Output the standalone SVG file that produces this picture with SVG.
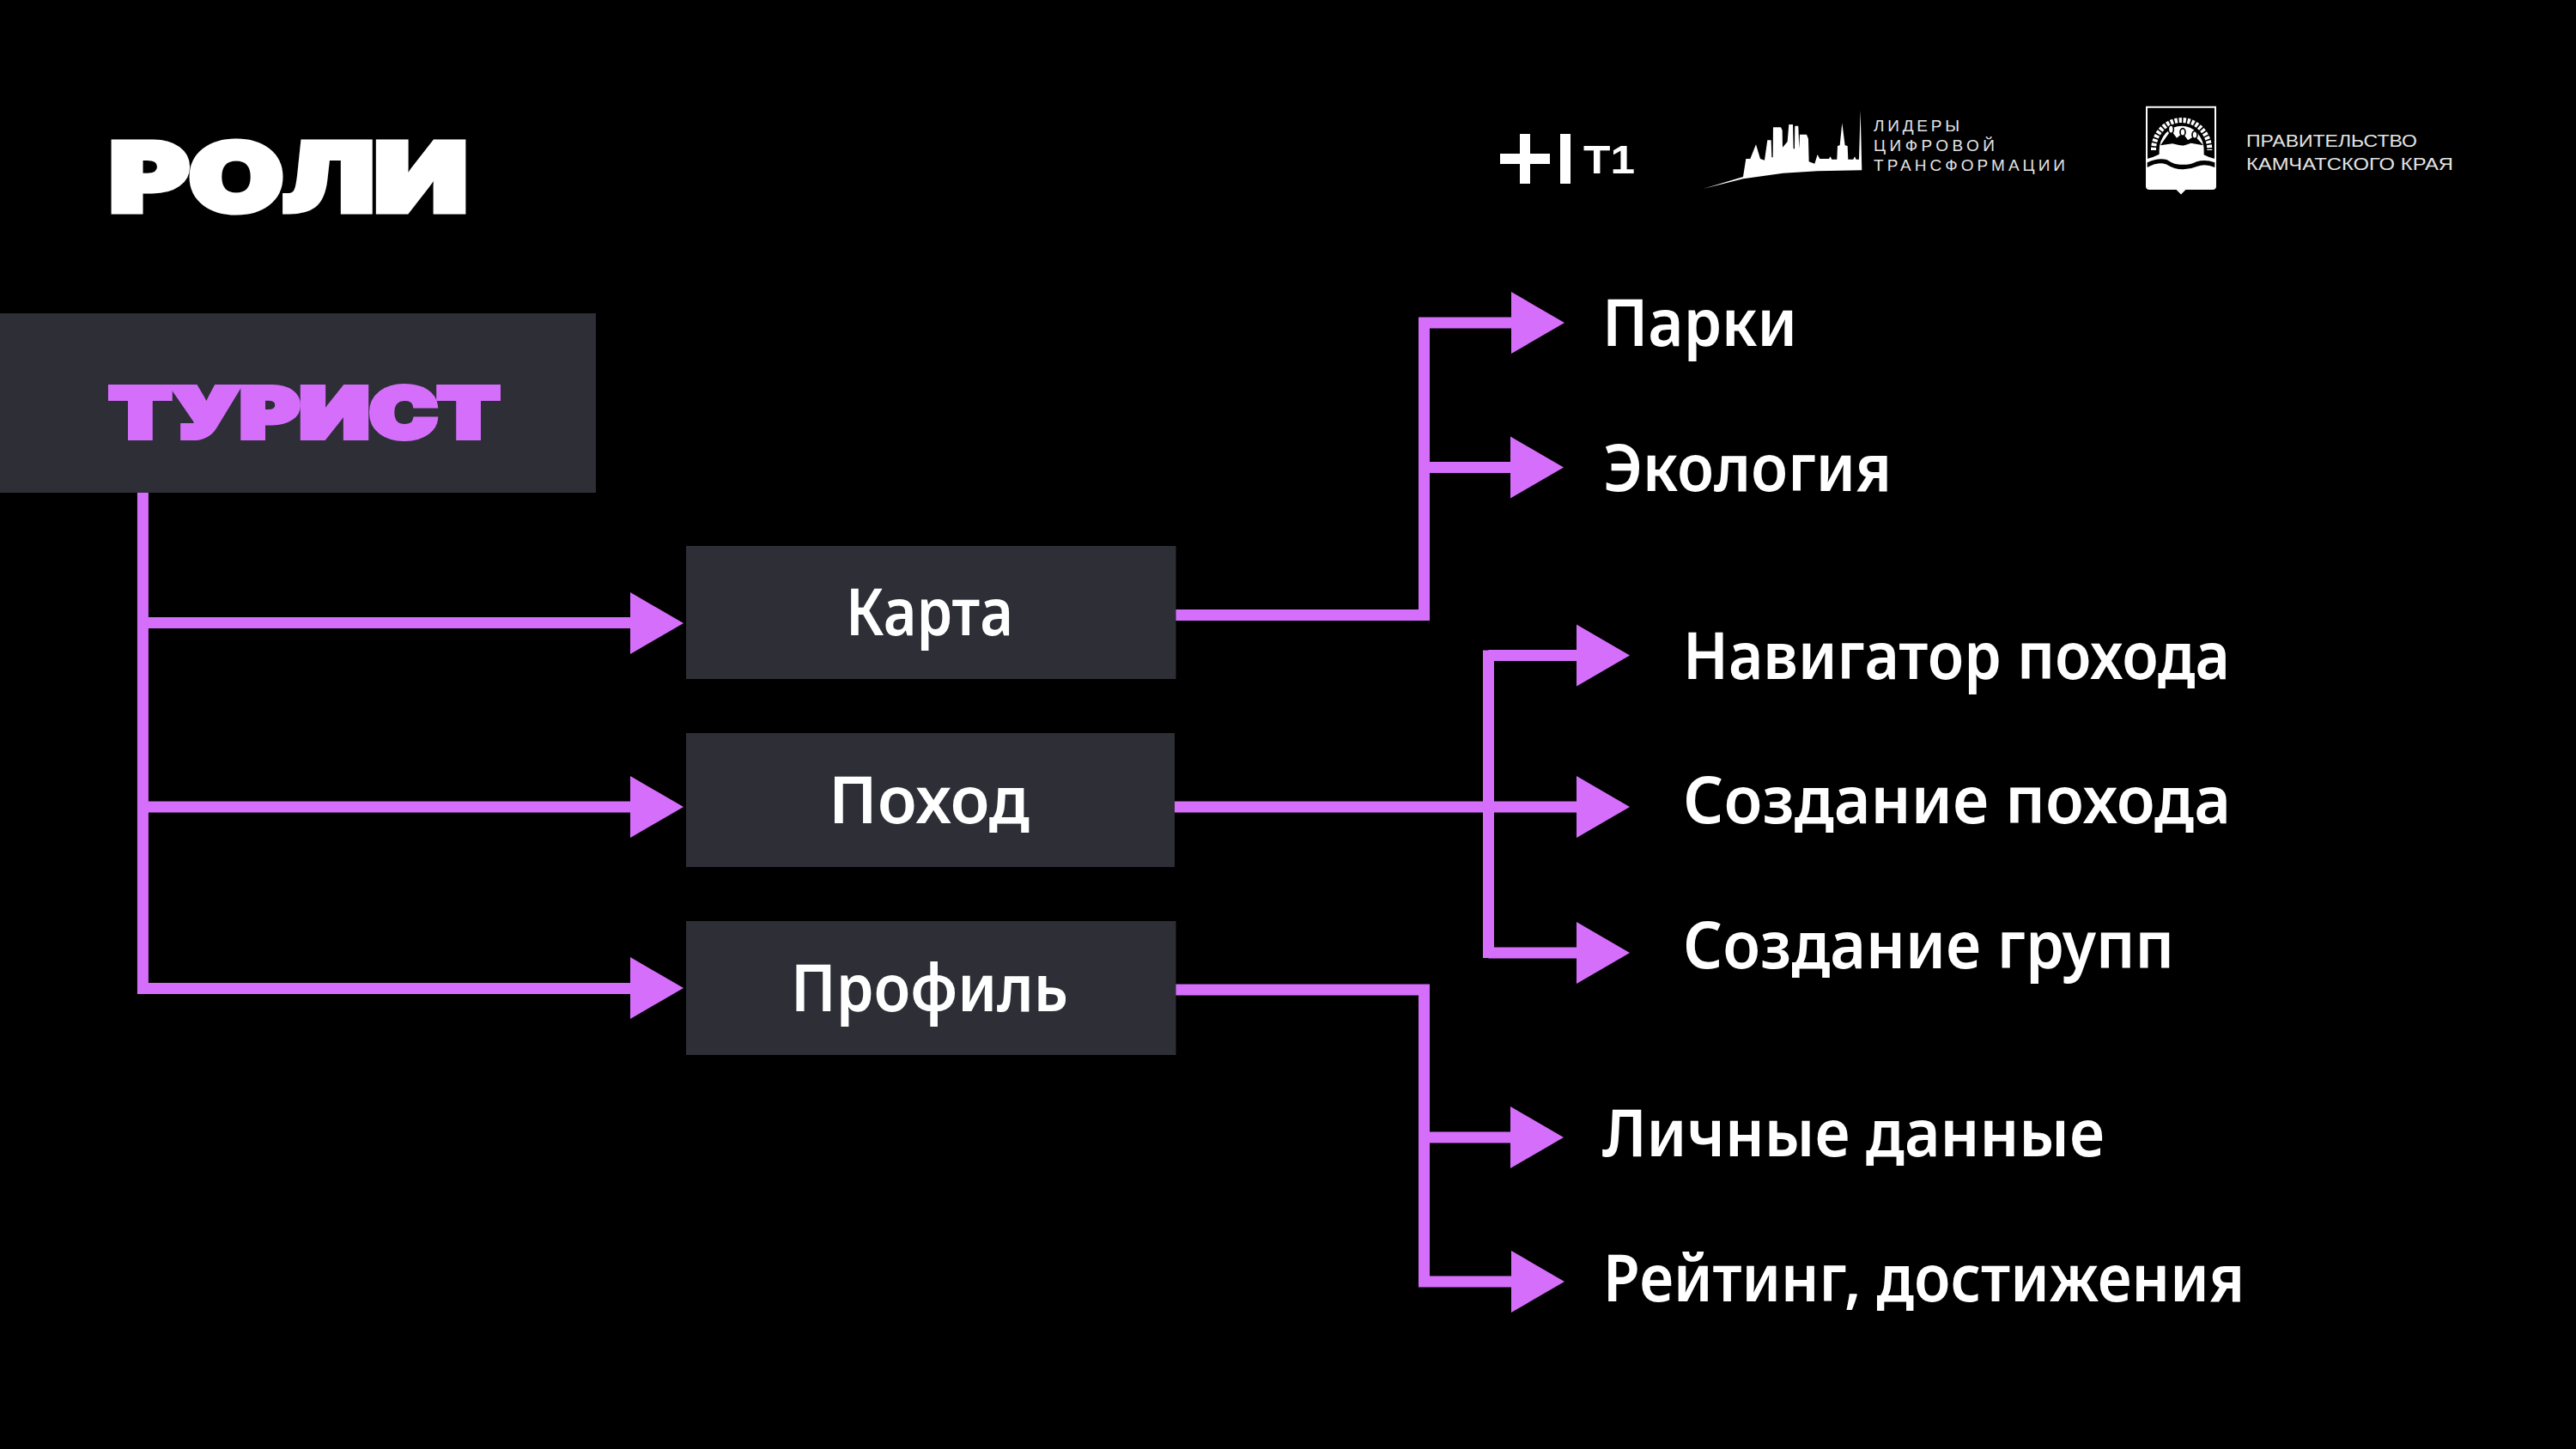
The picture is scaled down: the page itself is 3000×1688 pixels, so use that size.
<svg xmlns="http://www.w3.org/2000/svg" width="3000" height="1688" viewBox="0 0 3000 1688">
<style>
.box{fill:#2d2e36}
.lbl{font-family:"Noto Sans","DejaVu Sans",sans-serif;font-size:76px;font-weight:600;fill:#fff}
.head{font-family:Inter,"DejaVu Sans",sans-serif;font-weight:900;stroke-linejoin:miter}
.logo{font-family:"Liberation Sans","DejaVu Sans",sans-serif;fill:#e4e4e4}
.ln{fill:none;stroke:#d56ffb;stroke-width:13;stroke-linejoin:miter}
.ah{fill:#d56ffb}
</style>
<defs>
<polygon id="ar" class="ah" points="0,-36 62,0 0,36"/>
</defs>
<rect width="3000" height="1688" fill="#000"/>
<text id="title" class="head" x="127.500" y="245.500" font-size="110" fill="#fff" stroke="#fff" stroke-width="7" textLength="417" lengthAdjust="spacingAndGlyphs">РОЛИ</text>
<g id="logo-t1" fill="#fff">
<rect x="1747" y="179" width="58" height="12"/><rect x="1770" y="156" width="12" height="58"/>
<rect x="1817" y="156" width="12" height="58"/>
<text class="logo" x="1844" y="202" font-size="46" font-weight="700" style="fill:#fff" textLength="60" lengthAdjust="spacingAndGlyphs">T1</text>
</g>
<g id="logo-leaders">
<polygon transform="translate(1950 120) scale(.3333)" fill="#fff" points="100,300 240,258 250,195 265,195 285,145 300,195 315,200 325,130 338,130 340,190 344,190 345,85 372,85 377,95 378,155 395,135 400,75 414,75 416,160 420,160 421,80 433,80 436,160 438,110 462,110 468,125 470,205 490,212 500,180 508,195 540,195 545,187 550,197 568,197 570,150 578,148 586,70 596,148 605,150 607,197 625,197 630,187 635,197 645,197 650,25 655,235 500,238 380,245 240,265"/>
<text class="logo" x="2182" y="153" font-size="19" textLength="100" lengthAdjust="spacing">ЛИДЕРЫ</text>
<text class="logo" x="2182" y="176" font-size="19" textLength="141" lengthAdjust="spacing">ЦИФРОВОЙ</text>
<text class="logo" x="2182" y="199" font-size="19" textLength="223" lengthAdjust="spacing">ТРАНСФОРМАЦИИ</text>
</g>
<g id="logo-kamchatka">
<g transform="translate(2480 110) scale(.3333)">
<path d="M60,44H300V322Q300,330 290,330H195L180,345L165,330H70Q60,330 60,322Z" fill="#000" stroke="#fff" stroke-width="6"/>
<path d="M84,195A98,105 0 1 1 280,195" fill="none" stroke="#fff" stroke-width="18" stroke-dasharray="10 5"/>
<path d="M104,195A78,85 0 1 1 260,195V215H104Z" fill="#fff"/>
<path d="M108,178L145,125L165,152L186,135L204,160L228,145L258,178L215,170L186,180L150,172Z" fill="#000"/>
<path d="M62,225Q110,212 135,185Q180,172 225,185Q250,212 298,225V245H62Z" fill="#fff"/>
<path d="M62,238Q100,220 130,228Q180,262 235,235Q265,225 298,238V255Q265,240 235,252Q180,275 130,245Q100,235 62,255Z" fill="#000"/>
<path d="M62,255Q100,235 130,245Q180,275 235,252Q265,240 298,255V322Q298,328 290,328H195L180,343L165,328H70Q62,328 62,322Z" fill="#fff"/>
<g fill="#fff" stroke="#000" stroke-width="5"><ellipse cx="145" cy="122" rx="9" ry="14"/><ellipse cx="186" cy="132" rx="9" ry="13"/><ellipse cx="228" cy="141" rx="9" ry="13"/></g>
</g>
<text class="logo" x="2616" y="171" font-size="21" textLength="199" lengthAdjust="spacingAndGlyphs">ПРАВИТЕЛЬСТВО</text>
<text class="logo" x="2616" y="198" font-size="21" textLength="241" lengthAdjust="spacingAndGlyphs">КАМЧАТСКОГО КРАЯ</text>
</g>
<g id="connectors">
<path class="ln" d="M166.400,574V1151.500H740M166.400,725.500H740M166.400,940H740"/>
<use href="#ar" x="734" y="726"/><use href="#ar" x="734" y="940"/><use href="#ar" x="734" y="1151"/>
<path class="ln" d="M1369,716.500H1658.500V376H1765M1658.500,544.500H1765"/>
<use href="#ar" x="1760" y="376"/><use href="#ar" x="1759" y="544.500"/>
<path class="ln" d="M1368,940H1840M1733.500,763.500H1840M1733.500,1110H1840M1733.500,757.500V1116"/>
<use href="#ar" x="1836" y="763.500"/><use href="#ar" x="1836" y="940"/><use href="#ar" x="1836" y="1110"/>
<path class="ln" d="M1369,1153H1658.500V1493H1765M1658.500,1325H1765"/>
<use href="#ar" x="1759" y="1325"/><use href="#ar" x="1760" y="1493"/>
</g>
<g id="node-tourist"><rect class="box" x="0" y="365" width="694" height="209"/>
<text class="head" x="127" y="510" font-size="81" fill="#d56ffb" stroke="#d56ffb" stroke-width="6" textLength="455" lengthAdjust="spacingAndGlyphs">ТУРИСТ</text></g>
<g id="node-karta"><rect class="box" x="799" y="636" width="570.500" height="155"/>
<text class="lbl" x="985" y="740" textLength="195" lengthAdjust="spacingAndGlyphs">Карта</text></g>
<g id="node-pohod"><rect class="box" x="799" y="854" width="569" height="156"/>
<text class="lbl" x="965" y="959" textLength="234" lengthAdjust="spacingAndGlyphs">Поход</text></g>
<g id="node-profile"><rect class="box" x="799" y="1073" width="570.500" height="156"/>
<text class="lbl" x="921" y="1178" textLength="323" lengthAdjust="spacingAndGlyphs">Профиль</text></g>
<g id="item-parki"><text class="lbl" x="1866" y="403" textLength="227" lengthAdjust="spacingAndGlyphs">Парки</text></g>
<g id="item-eco"><text class="lbl" x="1867" y="572" textLength="336" lengthAdjust="spacingAndGlyphs">Экология</text></g>
<g id="item-nav"><text class="lbl" x="1960" y="791" textLength="637" lengthAdjust="spacingAndGlyphs">Навигатор похода</text></g>
<g id="item-create"><text class="lbl" x="1960" y="959" textLength="638" lengthAdjust="spacingAndGlyphs">Создание похода</text></g>
<g id="item-groups"><text class="lbl" x="1960" y="1128" textLength="572" lengthAdjust="spacingAndGlyphs">Создание групп</text></g>
<g id="item-personal"><text class="lbl" x="1866" y="1347" textLength="585" lengthAdjust="spacingAndGlyphs">Личные данные</text></g>
<g id="item-rating"><text class="lbl" x="1867" y="1516" textLength="747" lengthAdjust="spacingAndGlyphs">Рейтинг, достижения</text></g>
</svg>
